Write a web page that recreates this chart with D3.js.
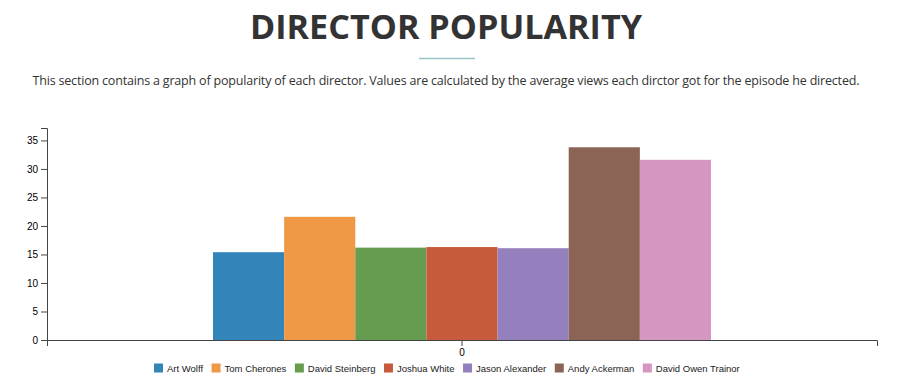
<!DOCTYPE html>
<html lang="en">
<head>
<meta charset="utf-8"/>
<script src="https://cdn.jsdelivr.net/npm/d3@7"></script>
<style>
  body { margin: 0; background: #fff; }
  text { font-family: "Open Sans", sans-serif; }
</style>
</head>
<body>
<script>
  // data
  var directors = ["Art Wolff", "Tom Cherones", "David Steinberg", "Joshua White",
                   "Jason Alexander", "Andy Ackerman", "David Owen Trainor"];
  var views = [15.4, 21.6, 16.2, 16.3, 16.1, 33.8, 31.6];
  var colors = ["#3385b9", "#ef9846", "#659c4f", "#c65a3a", "#9480bd", "#8c6455", "#d596c1"];
  var groups = ["0"];
  var yTicks = [0, 5, 10, 15, 20, 25, 30, 35];

  var w = 912, h = 386;
  var svg = d3.select("body").append("svg")
      .attr("width", w)
      .attr("height", h);

  // heading
  svg.append("text")
      .attr("x", 446).attr("y", 39)
      .attr("text-anchor", "middle")
      .attr("textLength", 392)
      .attr("lengthAdjust", "spacingAndGlyphs")
      .style("font-size", "34px")
      .style("font-weight", 700)
      .style("fill", "#333")
      .text("DIRECTOR POPULARITY");

  svg.append("line")
      .attr("x1", 419).attr("x2", 475)
      .attr("y1", 58.5).attr("y2", 58.5)
      .style("stroke", "#94c4c6")
      .style("stroke-width", 1.5);

  svg.append("text")
      .attr("x", 446).attr("y", 85)
      .attr("text-anchor", "middle")
      .attr("textLength", 827)
      .attr("lengthAdjust", "spacing")
      .style("font-size", "12.5px")
      .style("fill", "#333")
      .text("This section contains a graph of popularity of each director. Values are calculated by the average views each dirctor got for the episode he directed.");

  // chart
  var mLeft = 47, mRight = 877, mTop = 128, mBottom = 340;

  var x0 = d3.scaleBand().domain(groups).range([mLeft, mRight]).padding(0.25);
  var x1 = d3.scaleBand().domain(directors).range([0, x0.bandwidth()]);
  var y = d3.scaleLinear().domain([0, d3.max(views) * 1.1]).range([mBottom, mTop]);

  var color = d3.scaleOrdinal().domain(directors).range(colors);

  var rows = directors.map(function(d, i) { return { name: d, value: views[i] }; });

  svg.append("g")
      .attr("transform", "translate(" + x0("0") + ",0)")
    .selectAll("rect")
    .data(rows)
    .enter().append("rect")
      .attr("x", function(d) { return x1(d.name); })
      .attr("y", function(d) { return y(d.value); })
      .attr("width", x1.bandwidth())
      .attr("height", function(d) { return mBottom - y(d.value); })
      .style("fill", function(d) { return color(d.name); });

  svg.append("g")
      .attr("transform", "translate(0," + mBottom + ")")
      .call(d3.axisBottom(x0))
      .selectAll("text").style("font-family", "sans-serif");

  svg.append("g")
      .attr("transform", "translate(" + mLeft + ",0)")
      .call(d3.axisLeft(y).tickValues(yTicks))
      .selectAll("text").style("font-family", "sans-serif");

  svg.selectAll(".domain, .tick line").style("stroke", "#444");

  // legend
  var legend = svg.append("g").attr("transform", "translate(0,372)");
  var lx = 154;
  rows.forEach(function(d) {
    legend.append("rect")
        .attr("x", lx).attr("y", -8.5)
        .attr("width", 9).attr("height", 9)
        .style("fill", color(d.name));
    var t = legend.append("text")
        .attr("x", lx + 13).attr("y", 0)
        .style("font-family", "'Liberation Sans', Arial, sans-serif")
        .style("font-size", "9.5px")
        .style("fill", "#222")
        .text(d.name);
    lx += 13 + t.node().getComputedTextLength() + 8.5;
  });
</script>
</body>
</html>
